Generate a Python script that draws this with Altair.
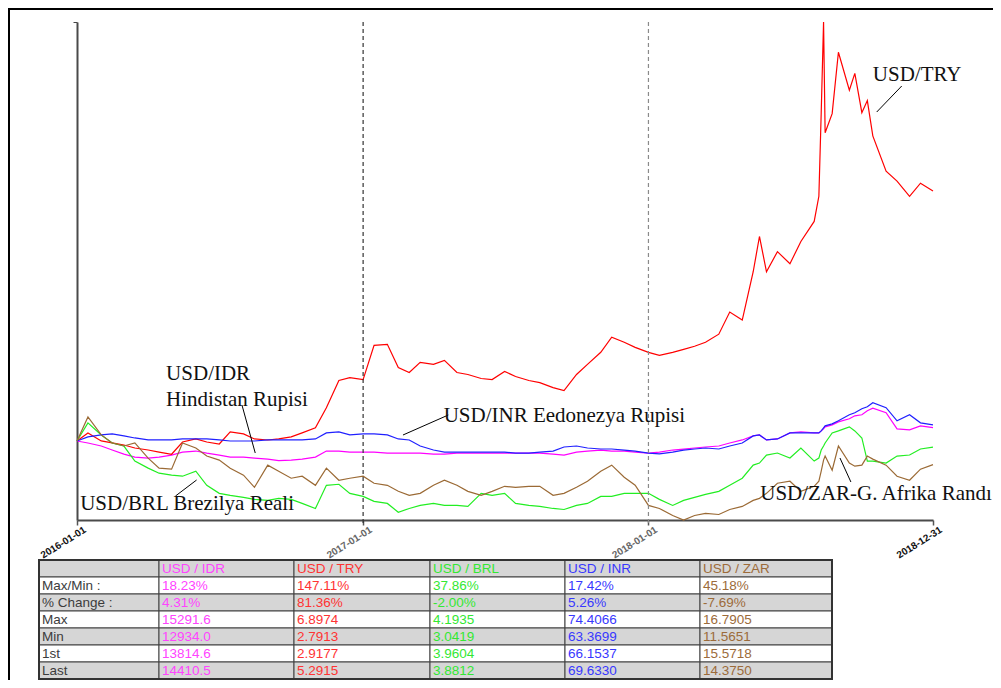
import altair as alt
import pandas as pd

# ---------------- data ----------------
dates = [
    "2016-01-01", "2016-01-15", "2016-02-01", "2016-02-15", "2016-03-01", "2016-03-15",
    "2016-04-01", "2016-04-15", "2016-05-01", "2016-05-15", "2016-06-01", "2016-06-15",
    "2016-07-01", "2016-07-15", "2016-08-01", "2016-08-15", "2016-09-01", "2016-09-15",
    "2016-10-01", "2016-10-15", "2016-11-01", "2016-11-15", "2016-12-01", "2016-12-15",
    "2017-01-01", "2017-01-15", "2017-02-01", "2017-02-15", "2017-03-01", "2017-03-15",
    "2017-04-01", "2017-04-15", "2017-05-01", "2017-05-15", "2017-06-01", "2017-06-15",
    "2017-07-01", "2017-07-15", "2017-08-01", "2017-08-15", "2017-09-01", "2017-09-15",
    "2017-10-01", "2017-10-15", "2017-11-01", "2017-11-15", "2017-12-01", "2017-12-15",
    "2018-01-01", "2018-01-15", "2018-02-01", "2018-02-15", "2018-03-01", "2018-03-15",
    "2018-04-01", "2018-04-15", "2018-05-01", "2018-05-15", "2018-05-23", "2018-06-01",
    "2018-06-15", "2018-07-01", "2018-07-15", "2018-08-01", "2018-08-07", "2018-08-10",
    "2018-08-13", "2018-08-15", "2018-08-24", "2018-09-01", "2018-09-15", "2018-09-22",
    "2018-10-01", "2018-10-08", "2018-10-15", "2018-11-01", "2018-11-15", "2018-12-01",
    "2018-12-15", "2018-12-31",
]

usd_idr = [
    13814.6, 13724, 13588, 13407, 13226, 13090, 13045, 13090, 13180, 13316, 13362, 13271,
    13180, 13090, 13090, 13045, 12999, 12934.0, 12954, 12999, 13090, 13362, 13362, 13316,
    13316, 13316, 13271, 13271, 13271, 13271, 13226, 13226, 13271, 13271, 13271, 13271,
    13271, 13271, 13271, 13271, 13226, 13180, 13316, 13362, 13407, 13362, 13362, 13316,
    13271, 13316, 13407, 13452, 13498, 13543, 13588, 13724, 13860, 14041, 14086, 13860,
    13905, 14177, 14222, 14177, 14177, 14268, 14358, 14449, 14539, 14675, 14811, 14947,
    14992, 15173, 15291.6, 15083, 14358, 14313, 14494, 14410.5,
]
usd_try = [
    2.9177, 2.994, 2.918, 2.899, 2.879, 2.851, 2.832, 2.812, 2.7913, 2.908, 2.937, 2.908,
    2.889, 3.004, 2.985, 2.937, 2.927, 2.937, 2.956, 2.994, 3.042, 3.233, 3.492, 3.520,
    3.501, 3.826, 3.836, 3.616, 3.568, 3.664, 3.645, 3.683, 3.568, 3.549, 3.511, 3.501,
    3.578, 3.530, 3.492, 3.472, 3.425, 3.396, 3.549, 3.645, 3.760, 3.903, 3.855, 3.807,
    3.759, 3.731, 3.759, 3.788, 3.817, 3.855, 3.932, 4.142, 4.066, 4.525, 4.860, 4.525,
    4.716, 4.601, 4.812, 5.003, 5.242, 6.036, 6.8974, 5.845, 6.027, 6.610, 6.250, 6.409,
    6.036, 6.151, 5.816, 5.481, 5.386, 5.242, 5.366, 5.2915,
]
usd_brl = [
    3.9604, 4.1935, 4.038, 3.934, 3.895, 3.701, 3.610, 3.545, 3.519, 3.506, 3.571, 3.389,
    3.285, 3.259, 3.233, 3.207, 3.194, 3.220, 3.207, 3.155, 3.090, 3.389, 3.402, 3.285,
    3.246, 3.181, 3.155, 3.0419, 3.090, 3.129, 3.155, 3.129, 3.129, 3.116, 3.285, 3.259,
    3.285, 3.155, 3.129, 3.116, 3.090, 3.077, 3.129, 3.155, 3.246, 3.246, 3.285, 3.285,
    3.285, 3.207, 3.129, 3.194, 3.233, 3.272, 3.311, 3.389, 3.480, 3.649, 3.675, 3.779,
    3.805, 3.740, 3.870, 3.701, 3.740, 3.844, 3.896, 3.934, 4.064, 4.090, 4.142, 4.090,
    3.999, 3.701, 3.701, 3.675, 3.766, 3.779, 3.857, 3.8812,
]
usd_inr = [
    66.1537, 67.02, 67.46, 67.67, 67.24, 66.80, 66.37, 66.37, 66.37, 66.59, 66.59, 66.59,
    66.37, 66.15, 66.15, 66.15, 66.37, 66.37, 66.37, 66.37, 66.59, 67.89, 68.11, 67.46,
    67.67, 67.67, 67.46, 66.59, 66.37, 65.07, 64.20, 63.77, 63.77, 63.77, 63.77, 63.77,
    63.77, 63.55, 63.55, 63.77, 63.98, 64.85, 65.07, 64.64, 64.42, 64.42, 64.20, 63.98,
    63.55, 63.3699, 63.77, 64.20, 64.42, 64.64, 64.42, 65.07, 65.72, 67.24, 67.46, 66.37,
    66.59, 67.89, 67.89, 67.89, 67.89, 68.32, 68.97, 69.41, 69.84, 70.49, 71.79, 72.23,
    73.09, 73.53, 74.4066, 73.31, 70.49, 71.79, 70.06, 69.6330,
]
usd_zar = [
    15.5718, 16.7905, 15.878, 15.470, 15.317, 15.470, 14.704, 14.193, 14.142, 15.470, 15.214, 14.806,
    14.602, 14.193, 13.836, 13.223, 14.346, 14.040, 13.683, 13.785, 13.325, 14.193, 13.581, 13.683,
    13.785, 13.427, 13.325, 13.019, 12.815, 12.917, 13.325, 13.581, 13.325, 13.019, 12.815, 13.019,
    13.274, 13.223, 13.274, 13.274, 12.815, 12.917, 13.223, 13.530, 14.040, 14.346, 13.734, 13.325,
    12.304, 12.151, 11.794, 11.5651, 11.794, 11.896, 11.845, 12.100, 12.253, 12.560, 12.662, 12.917,
    13.427, 13.530, 13.019, 13.274, 13.530, 14.040, 14.602, 14.806, 14.091, 15.317, 14.449, 14.295,
    14.346, 14.806, 14.653, 14.346, 13.785, 13.581, 14.142, 14.375,
]

pair_names = ["USD / IDR", "USD / TRY", "USD / BRL", "USD / INR", "USD / ZAR"]
row_labels = ["Max/Min :", "% Change :", "Max", "Min", "1st", "Last"]
stats_idr = ["18.23%", "4.31%", "15291.6", "12934.0", "13814.6", "14410.5"]
stats_try = ["147.11%", "81.36%", "6.8974", "2.7913", "2.9177", "5.2915"]
stats_brl = ["37.86%", "-2.00%", "4.1935", "3.0419", "3.9604", "3.8812"]
stats_inr = ["17.42%", "5.26%", "74.4066", "63.3699", "66.1537", "69.6330"]
stats_zar = ["45.18%", "-7.69%", "16.7905", "11.5651", "15.5718", "14.3750"]

tick_dates = ["2016-01-01", "2017-01-01", "2018-01-01", "2018-12-31"]
year_marks = ["2017-01-01", "2018-01-01"]

note_text = ["USD/TRY", "USD/IDR", "Hindistan Rupisi", "USD/INR Eedonezya Rupisi",
             "USD/BRL Brezilya Reali", "USD/ZAR-G. Afrika Randı"]
note_date = ["2018-10-15", "2016-04-24", "2016-04-24", "2017-04-14", "2016-01-05", "2018-05-24"]
note_value = [2.1718, 1.1985, 1.1138, 1.0617, 0.7753, 0.8078]

leader_date1 = ["2018-10-20", "2016-07-30", "2017-02-21", "2016-05-06", "2018-09-03"]
leader_value1 = [2.0709, 1.1171, 1.0194, 0.8208, 0.9445]
leader_date2 = ["2018-11-21", "2016-08-16", "2017-04-20", "2016-06-02", "2018-09-17"]
leader_value2 = [2.1556, 0.9608, 1.0845, 0.8729, 0.8664]

# ---------------- styles / layout ----------------
LINE_COLORS = {"USD / IDR": "#ff00ff", "USD / TRY": "#ff0000", "USD / BRL": "#22ee22",
               "USD / INR": "#2020ff", "USD / ZAR": "#9b6a35"}
TEXT_COLORS = {"USD / IDR": "#ff44ff", "USD / TRY": "#ff3333", "USD / BRL": "#33e833",
               "USD / INR": "#3838ff", "USD / ZAR": "#9c6b3a"}
W, H = 856, 498
PAD = {"left": 69, "top": 14, "right": 60, "bottom": 160}

series = {"USD / IDR": usd_idr, "USD / TRY": usd_try, "USD / BRL": usd_brl,
          "USD / INR": usd_inr, "USD / ZAR": usd_zar}
recs = []
for name, vals in series.items():
    assert len(vals) == len(dates), name
    base = vals[0]
    for d, v in zip(dates, vals):
        recs.append({"date": d, "pair": name, "idx": v / base})
df = pd.DataFrame(recs)
ymin, ymax = float(df["idx"].min()), float(df["idx"].max())


def dt(s):
    y, m, d = (int(p) for p in s.split("-"))
    return alt.DateTime(year=y, month=m, date=d, utc=True)


xsc = alt.Scale(domain=[dt(dates[0]), dt(dates[-1])])
ysc = alt.Scale(domain=[ymin, ymax], nice=False, zero=False)
xaxis = alt.Axis(values=[dt(s) for s in tick_dates], labels=False, tickSize=5,
                 tickColor="#555555", tickWidth=1.5, domainColor="#4a4a4a",
                 domainWidth=2, grid=False, title=None)
yaxis = alt.Axis(values=[ymax], labels=False, tickSize=4, tickColor="#444444",
                 domainColor="#4a4a4a", domainWidth=2, grid=False, title=None)


def X(f):
    return alt.X(f, type="temporal", scale=xsc, axis=xaxis)


def Y(f):
    return alt.Y(f, type="quantitative", scale=ysc, axis=yaxis)


layers = []
for name in pair_names:
    layers.append(
        alt.Chart(df[df["pair"] == name]).mark_line(strokeWidth=1.2, color=LINE_COLORS[name])
        .encode(x=X("date"), y=Y("idx"))
    )

year_df = pd.DataFrame({"date": year_marks, "col": ["#333333", "#8a8a8a"]})
layers.append(
    alt.Chart(year_df).mark_rule(strokeDash=[4, 3], strokeWidth=1.2)
    .encode(x=X("date"), y=alt.value(0), y2=alt.value(H + 6),
            color=alt.Color("col:N", scale=None))
)

tick_df = pd.DataFrame({"date": tick_dates, "label": tick_dates,
                        "col": ["#111111", "#666666", "#666666", "#111111"]})
layers.append(
    alt.Chart(tick_df).mark_text(angle=328, align="right", baseline="top", dx=2, dy=7,
                                 font="Liberation Sans", fontSize=10, fontWeight="bold")
    .encode(x=X("date"), y=alt.value(H), text="label:N",
            color=alt.Color("col:N", scale=None))
)

lead_df = pd.DataFrame({"d1": leader_date1, "v1": leader_value1,
                        "d2": leader_date2, "v2": leader_value2})
layers.append(
    alt.Chart(lead_df).mark_rule(color="#000000", strokeWidth=1)
    .encode(x=X("d1"), x2="d2:T", y=Y("v1"), y2="v2:Q")
)

note_df = pd.DataFrame({"date": note_date, "value": note_value, "note": note_text})
layers.append(
    alt.Chart(note_df).mark_text(align="left", baseline="alphabetic", font="Liberation Serif",
                                 fontSize=21, color="#111111")
    .encode(x=X("date"), y=Y("value"), text="note:N")
)

dummy = pd.DataFrame({"k": [0]})
layers.append(
    alt.Chart(dummy).mark_rule(color="#000000", strokeWidth=2)
    .encode(x=alt.value(-68), y=alt.value(-14), y2=alt.value(H + PAD["bottom"]))
)
layers.append(
    alt.Chart(dummy).mark_rule(color="#000000", strokeWidth=2)
    .encode(x=alt.value(-69), x2=alt.value(W + PAD["right"]), y=alt.value(-13))
)

line_group = alt.layer(*layers)

# ---------------- statistics table ----------------
col_w = [120, 135, 136, 135, 135, 132]
edges = [0]
for w_ in col_w:
    edges.append(edges[-1] + w_)
TX0 = -38
TY0, TY1 = 538, 657
stat_cols = [stats_idr, stats_try, stats_brl, stats_inr, stats_zar]
cells = []
for r in range(7):
    for c in range(6):
        if r == 0:
            txt = "" if c == 0 else pair_names[c - 1]
        else:
            txt = row_labels[r - 1] if c == 0 else stat_cols[c - 1][r - 1]
        tcol = "#3c3c3c" if c == 0 else TEXT_COLORS[pair_names[c - 1]]
        cells.append({"x0": edges[c], "x1": edges[c + 1], "r0": r, "r1": r + 1,
                      "rm": r + 0.5, "txt": txt, "tcol": tcol,
                      "bg": "#d6d6d6" if r % 2 == 0 else "#ffffff"})
tdf = pd.DataFrame(cells)
tx = alt.Scale(domain=[0, edges[-1]], range=[TX0, TX0 + edges[-1]])
ty = alt.Scale(domain=[0, 7], range=[TY0, TY1])

t_rect = alt.Chart(tdf).mark_rect(stroke="#404040", strokeWidth=1).encode(
    x=alt.X("x0:Q", scale=tx, axis=None), x2="x1:Q",
    y=alt.Y("r0:Q", scale=ty, axis=None), y2="r1:Q",
    fill=alt.Fill("bg:N", scale=None),
)
t_text = alt.Chart(tdf).mark_text(align="left", baseline="middle", dx=3,
                                  font="Liberation Sans", fontSize=13.5).encode(
    x=alt.X("x0:Q", scale=tx, axis=None),
    y=alt.Y("rm:Q", scale=ty, axis=None),
    text="txt:N",
    color=alt.Color("tcol:N", scale=None),
)
bdf = pd.DataFrame({"a": [0], "b": [edges[-1]], "c": [0], "d": [7]})
t_border = alt.Chart(bdf).mark_rect(fillOpacity=0, stroke="#333333", strokeWidth=2).encode(
    x=alt.X("a:Q", scale=tx, axis=None), x2="b:Q",
    y=alt.Y("c:Q", scale=ty, axis=None), y2="d:Q",
)
table_group = alt.layer(t_rect, t_text, t_border)

chart = (
    alt.layer(line_group, table_group)
    .resolve_scale(x="independent", y="independent")
    .properties(width=W, height=H, padding=PAD,
                autosize=alt.AutoSizeParams(type="none"), background="white")
    .configure_view(stroke=None)
)

chart.save("out.html", embed_options={"renderer": "svg", "actions": False})
